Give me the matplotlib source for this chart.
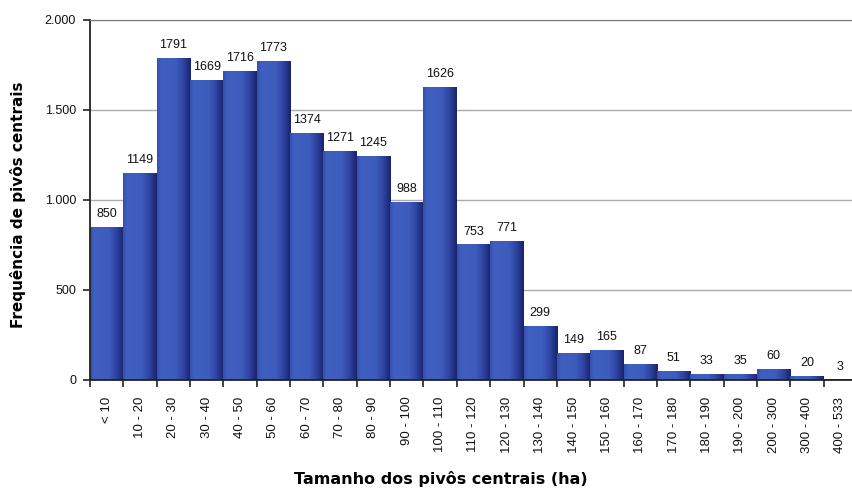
import numpy as np
import matplotlib.pyplot as plt
from matplotlib.colors import LinearSegmentedColormap

# Classes de tamanho (ha) e frequência de pivôs
classes = ["< 10", "10 - 20", "20 - 30", "30 - 40", "40 - 50", "50 - 60",
           "60 - 70", "70 - 80", "80 - 90", "90 - 100", "100 - 110",
           "110 - 120", "120 - 130", "130 - 140", "140 - 150", "150 - 160",
           "160 - 170", "170 - 180", "180 - 190", "190 - 200", "200 - 300",
           "300 - 400", "400 - 533"]
frequencia = [850, 1149, 1791, 1669, 1716, 1773, 1374, 1271, 1245, 988, 1626,
              753, 771, 299, 149, 165, 87, 51, 33, 35, 60, 20, 3]
yticks = [0, 500, 1000, 1500, 2000]
ytick_labels = ["0", "500", "1.000", "1.500", "2.000"]

plt.rcParams['font.family'] = ['Liberation Sans', 'DejaVu Sans']

fig = plt.figure(figsize=(8.52, 4.92), dpi=100)
ax = fig.add_axes([90 / 852, 112 / 492, 767 / 852, 360 / 492])

n = len(frequencia)
x = np.arange(n)

# gradiente horizontal das barras (efeito cilíndrico)
cmap = LinearSegmentedColormap.from_list("barra", [
    (0.0, "#3450ad"), (0.12, "#4060c0"), (0.55, "#3d5cbd"),
    (0.8, "#2c429e"), (1.0, "#1a226a")])
grad = np.linspace(0, 1, 64).reshape(1, -1)

bars = ax.bar(x, frequencia, width=1.0, color="none", edgecolor="none", zorder=2)
for b, v in zip(bars, frequencia):
    x0 = b.get_x()
    im = ax.imshow(grad, cmap=cmap, aspect="auto", zorder=2,
                   extent=(x0, x0 + b.get_width(), 0, max(v, 0.001)))
    im.set_clip_path(b)
    ax.annotate(str(v), (b.get_x() + b.get_width() / 2, v),
                xytext=(0, 5), textcoords="offset points",
                ha="center", va="bottom", fontsize=9, color="#111111",
                bbox=dict(boxstyle="square,pad=0.15", fc="white", ec="none"),
                zorder=4)

ax.set_xlim(-0.5, n - 0.5)
ax.set_ylim(0, 2000)

ax.set_yticks(yticks)
ax.set_yticklabels(ytick_labels, fontsize=9, color="#111111")
ax.yaxis.grid(True, color="#ababab", linewidth=1.0, zorder=0)
ax.set_axisbelow(True)

ax.set_xticks(x)
ax.set_xticklabels(classes, rotation=90, fontsize=9.5, va="top", ha="center",
                   color="#111111")
ax.tick_params(axis="x", which="major", length=0, pad=12)
ax.set_xticks(np.arange(n + 1) - 0.5, minor=True)
ax.tick_params(axis="x", which="minor", length=5, width=1.2, color="#222222")
ax.tick_params(axis="y", length=5, width=1.2, color="#222222", pad=5)

ax.spines["right"].set_visible(False)
ax.spines["top"].set_color("#777777")
for s in ["left", "bottom"]:
    ax.spines[s].set_linewidth(1.3)
    ax.spines[s].set_color("#222222")

fig.text(18 / 852, 1 - 205 / 492, "Frequência de pivôs centrais", rotation=90,
         ha="center", va="center", fontsize=11, fontweight="bold",
         family="DejaVu Sans")
fig.text(441 / 852, 1 - 479 / 492, "Tamanho dos pivôs centrais (ha)",
         ha="center", va="center", fontsize=11.5, fontweight="bold",
         family="DejaVu Sans")

fig.savefig("out.png", dpi=100)
